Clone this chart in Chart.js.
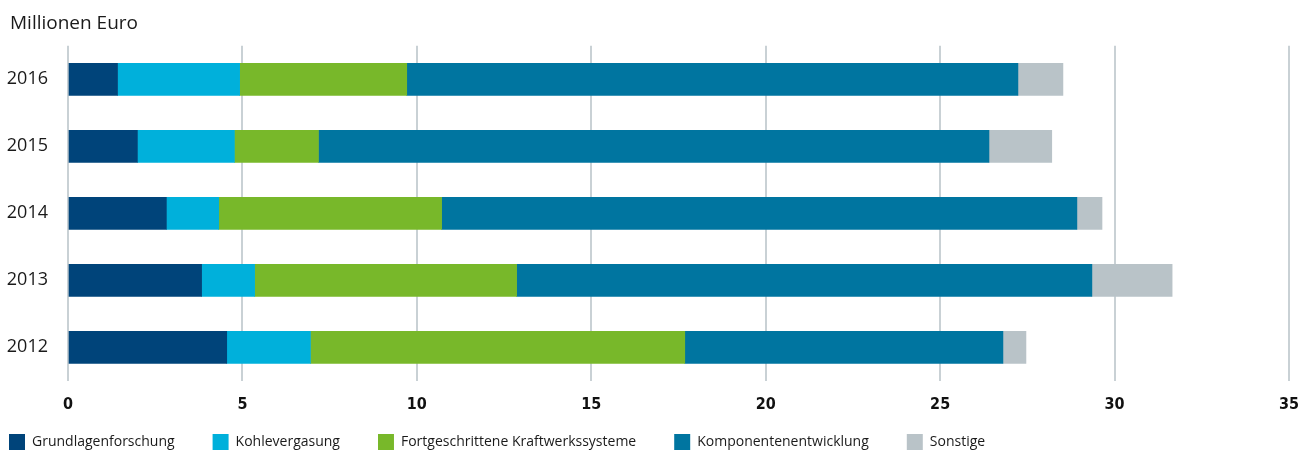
<!DOCTYPE html>
<html><head><meta charset="utf-8">
<script src="https://cdn.jsdelivr.net/npm/chart.js@4/dist/chart.umd.min.js"></script>
<style>html,body{margin:0;padding:0;background:#fff;}#wrap{width:1313px;height:450px;}</style>
</head><body><div id="wrap"><canvas id="c"></canvas></div>
<script>
const years = ['2016','2015','2014','2013','2012'];
const grundlagen = [1.42, 1.99, 2.82, 3.83, 4.55];
const kohle = [3.50, 2.78, 1.50, 1.52, 2.40];
const kraftwerk = [4.79, 2.41, 6.39, 7.51, 10.73];
const komponenten = [17.52, 19.22, 18.21, 16.49, 9.12];
const sonstige = [1.29, 1.80, 0.72, 2.30, 0.66];
const xTicks = [0,5,10,15,20,25,30,35];

const seriesNames = ['Grundlagenforschung','Kohlevergasung','Fortgeschrittene Kraftwerkssysteme','Komponentenentwicklung','Sonstige'];
const seriesData = [grundlagen, kohle, kraftwerk, komponenten, sonstige];
const colors = ['#00447a','#00b0db','#78b82a','#0075a0','#b9c3c8'];
const FONT = '"Open Sans", "Noto Sans", sans-serif';
const LEG_PAD = 38;

const boxMover = {
  id: 'boxMover',
  afterLayout(chart) {
    const lg = chart.legend;
    if (lg) { lg.left = 9 - LEG_PAD; lg.top = 434 - LEG_PAD; }
    const tb = chart.titleBlock;
    if (tb) { tb.left = 10; }
  }
};

new Chart(document.getElementById('c'), {
  type: 'bar',
  data: {
    labels: years,
    datasets: seriesNames.map((n,i)=>({label:n, data:seriesData[i], backgroundColor:colors[i], borderWidth:0, barThickness:32}))
  },
  options: {
    indexAxis: 'y',
    responsive: true, maintainAspectRatio: false, animation: false,
    layout: {padding: {left: 4, right: 24, top: 12, bottom: 0}},
    plugins: {
      title: {display: true, text: 'Millionen Euro', align: 'start', color: '#1a1a1a',
        font: {family: FONT, size: 19, weight: 'normal'}, padding: {top: 0, bottom: 11}},
      legend: {position: 'bottom', align: 'start', maxHeight: 22,
        labels: {boxWidth: 16, boxHeight: 16, padding: LEG_PAD, color: '#1a1a1a',
          font: {family: FONT, size: 14}}},
      tooltip: {enabled: false}
    },
    scales: {
      x: {stacked: true, min: 0, max: 35,
        afterBuildTicks: s => { s.ticks = xTicks.map(v=>({value:v})); },
        grid: {color: '#c9d1d5', lineWidth: 2, drawTicks: false},
        border: {display: false},
        ticks: {color: '#111', padding: 14, font: {family: '"DejaVu Sans Condensed", "DejaVu Sans", sans-serif', size: 16, weight: 'bold'}}
      },
      y: {stacked: true,
        afterFit: s => { s.width = 64; },
        grid: {display: false, drawTicks: false},
        border: {display: false},
        ticks: {color: '#1a1a1a', padding: 20, font: {family: FONT, size: 18}}
      }
    }
  },
  plugins: [boxMover]
});
</script></body></html>
